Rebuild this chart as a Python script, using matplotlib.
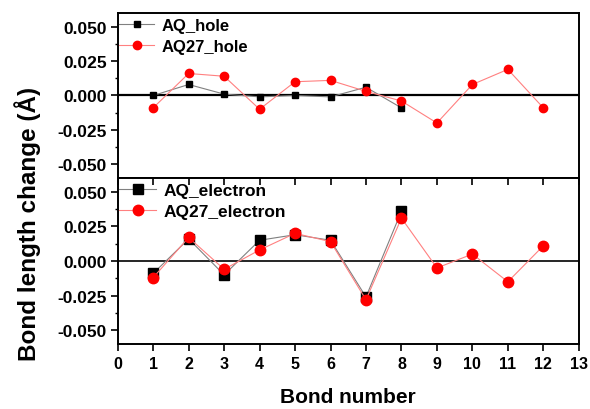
import matplotlib
matplotlib.use("Agg")
import matplotlib.pyplot as plt
from matplotlib.ticker import MultipleLocator, FormatStrFormatter

# bond indices
bonds_aq = [1, 2, 3, 4, 5, 6, 7, 8]
bonds_aq27 = [1, 2, 3, 4, 5, 6, 7, 8, 9, 10, 11, 12]

# hole: bond length change (A)
aq_hole = [0.000, 0.008, 0.001, -0.001, 0.000, -0.001, 0.006, -0.009]
aq27_hole = [-0.009, 0.016, 0.014, -0.010, 0.010, 0.011, 0.003, -0.004,
             -0.020, 0.008, 0.019, -0.009]

# electron: bond length change (A)
aq_electron = [-0.009, 0.016, -0.010, 0.015, 0.019, 0.015, -0.026, 0.036]
aq27_electron = [-0.012, 0.017, -0.006, 0.008, 0.020, 0.014, -0.028, 0.031,
                 -0.005, 0.005, -0.015, 0.011]

plt.rcParams['font.family'] = ['Liberation Sans', 'DejaVu Sans']
plt.rcParams['font.weight'] = 'bold'
plt.rcParams['axes.unicode_minus'] = False

fig = plt.figure(figsize=(5.9, 4.1), dpi=100)
left, width = 0.1995, 0.7815
ax1 = fig.add_axes([left, 0.5634, width, 0.4025])
ax2 = fig.add_axes([left, 0.1585, width, 0.4049])

black_line = '#808080'
red_line = '#ff8080'


def style_axis(ax):
    ax.set_xlim(0, 13)
    ax.set_ylim(-0.06, 0.06)
    ax.yaxis.set_major_locator(MultipleLocator(0.025))
    ax.yaxis.set_minor_locator(MultipleLocator(0.0125))
    ax.yaxis.set_major_formatter(FormatStrFormatter('%.3f'))
    ax.xaxis.set_major_locator(MultipleLocator(1))
    ax.tick_params(axis='y', which='major', direction='out', length=5, width=1.2,
                   labelsize=12.5, right=False, pad=3)
    ax.tick_params(axis='y', which='minor', direction='out', length=2.5, width=1.0,
                   right=False)
    for lab in ax.get_yticklabels():
        lab.set_fontweight('bold')
    for s in ax.spines.values():
        s.set_linewidth(1.4)


# top panel: hole
ax1.plot(bonds_aq, aq_hole, color=black_line, lw=0.8, marker='s', ms=5,
         mfc='black', mec='black', label='AQ_hole')
ax1.plot(bonds_aq27, aq27_hole, color=red_line, lw=0.8, marker='o', ms=6,
         mfc='red', mec='red', label='AQ27_hole')
ax1.axhline(0, color='black', lw=1.6, zorder=1)
style_axis(ax1)
ax1.tick_params(axis='x', which='both', bottom=False, top=False, labelbottom=False)
ax1.legend(loc='upper left', bbox_to_anchor=(0, 0.98), frameon=False,
           borderpad=0.1, borderaxespad=0, handlelength=2.1,
           handletextpad=0.45, labelspacing=0.35,
           prop={'weight': 'bold', 'size': 12})

# bottom panel: electron
ax2.plot(bonds_aq, aq_electron, color=black_line, lw=0.8, marker='s', ms=6.5,
         mfc='black', mec='black', label='AQ_electron')
ax2.plot(bonds_aq27, aq27_electron, color=red_line, lw=0.8, marker='o', ms=7.5,
         mfc='red', mec='red', label='AQ27_electron')
ax2.axhline(0, color='black', lw=1.2, zorder=1)
style_axis(ax2)
ax2.set_xticks(range(0, 14))
ax2.tick_params(axis='x', which='major', bottom=True, top=True, length=5, width=1.2,
                labelsize=11.5)
for t in ax2.xaxis.get_major_ticks():
    t.tick2line.set_marker(3)  # top ticks point down (inward)
for lab in ax2.get_xticklabels():
    lab.set_fontweight('bold')
ax2.set_xlabel('Bond number', fontsize=15, fontweight='bold', labelpad=12)
ax2.legend(loc='upper left', bbox_to_anchor=(0, 0.98), frameon=False,
           borderpad=0.1, borderaxespad=0, handlelength=2.1,
           handletextpad=0.45, labelspacing=0.35,
           prop={'weight': 'bold', 'size': 12.5})

fig.text(0.046, 0.455, 'Bond length change (\u00c5)', rotation=90, ha='center',
         va='center', fontsize=17.5, fontweight='bold')

fig.savefig('out.png', dpi=100)
